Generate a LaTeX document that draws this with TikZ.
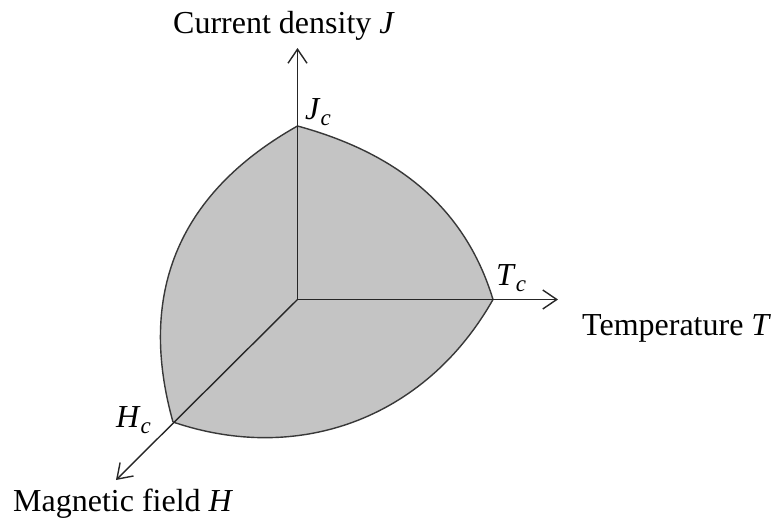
\documentclass[tikz,border=0pt]{standalone}
\usepackage{fontspec}
\setmainfont{Liberation Serif}
\usetikzlibrary{arrows.meta}
\newcommand{\subc}{\raisebox{-6pt}{\fontsize{23}{27}\selectfont\itshape c}}
\definecolor{regiongray}{HTML}{C4C4C4}
\begin{document}
\begin{tikzpicture}[x=1pt,y=-1pt,
  axis/.style={line width=1.4pt, draw=black!85},
  axisarrow/.style={axis, -{Straight Barb[length=14pt,width=19pt,line width=1.4pt]}},
  boundary/.style={line width=1.4pt, draw=black!78},
  lbl/.style={font=\fontsize{32}{38}\selectfont, inner sep=0pt, anchor=base west},
  ]
\useasboundingbox (0,0) rectangle (779,520);
% key points
\coordinate (O) at (297.5,299.5);
\coordinate (Jc) at (297.5,126);
\coordinate (Tc) at (493,299.5);
\coordinate (Hc) at (173,422);
\coordinate (Jend) at (297.5,48);
\coordinate (Tend) at (558,299.5);
\coordinate (Hend) at (116,480);
% region
\fill[regiongray] (Jc) .. controls (393,152) and (464,204) .. (Tc)
  .. controls (424,421) and (296,464) .. (Hc)
  .. controls (138,297) and (175,195) .. (Jc) -- cycle;
\draw[boundary] (Jc) .. controls (393,152) and (464,204) .. (Tc);
\draw[boundary] (Tc) .. controls (424,421) and (296,464) .. (Hc);
\draw[boundary] (Hc) .. controls (138,297) and (175,195) .. (Jc);
% axes
\draw[axisarrow] (O) -- (Jend);
\draw[axisarrow] (O) -- (Tend);
\draw[axisarrow] (O) -- (Hend);
% labels
\node[lbl] (jlabel) at (173,33) {Current density \textit{J}};
\node[lbl] (tlabel) at (582,335) {Temperature \textit{T}};
\node[lbl] (hlabel) at (13,511) {Magnetic field \textit{H}};
\node[lbl] (jclabel) at (305,119) {\textit{J}\subc};
\node[lbl] (tclabel) at (496,285) {\textit{T}\subc};
\node[lbl] (hclabel) at (116,427) {\textit{H}\subc};
\end{tikzpicture}
\end{document}
